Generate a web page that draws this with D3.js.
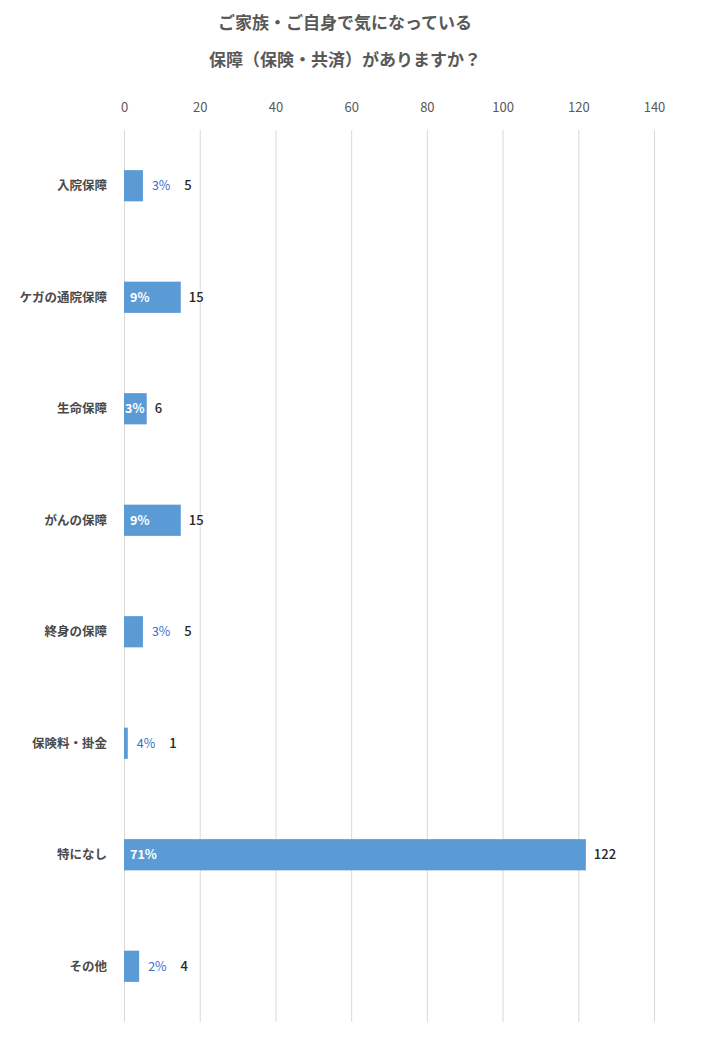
<!DOCTYPE html>
<html>
<head>
<meta charset="utf-8">
<script src="https://cdn.jsdelivr.net/npm/d3@7"></script>
<style>
  body { margin: 0; background: #fff; }
  text { font-family: "Noto Sans CJK JP", "Noto Sans", sans-serif; }
  .grid line { stroke: #d9d9d9; stroke-width: 1; }
  .grid path { display: none; }
  .xAxis path, .xAxis line { display: none; }
  .xAxis text { fill: #595959; font-size: 13px; }
</style>
</head>
<body>
<script>
const categories = ["入院保障", "ケガの通院保障", "生命保障", "がんの保障", "終身の保障", "保険料・掛金", "特になし", "その他"];
const values = [5, 15, 6, 15, 5, 1, 122, 4];
const percents = ["3%", "9%", "3%", "9%", "3%", "4%", "71%", "2%"];
const xTicks = [0, 20, 40, 60, 80, 100, 120, 140];
const titleLines = ["ご家族・ご自身で気になっている", "保障（保険・共済）がありますか？"];

const width = 706, height = 1049;
const margin = {top: 130, right: 52, bottom: 27, left: 124};
const innerW = width - margin.left - margin.right;
const innerH = height - margin.top - margin.bottom;

let svg = d3.select("body").append("svg")
    .attr("width", width)
    .attr("height", height);

svg.selectAll(".title")
    .data(titleLines)
    .enter().append("text")
    .attr("class", "title")
    .attr("x", 345)
    .attr("y", (d, i) => 29 + i * 37)
    .style("text-anchor", "middle")
    .style("font-size", "17px")
    .style("font-weight", "bold")
    .style("fill", "#595959")
    .text(d => d);

let g = svg.append("g")
    .attr("transform", "translate(" + margin.left + "," + margin.top + ")");

let x = d3.scaleLinear()
    .domain([0, 140])
    .range([0, innerW]);

let y = d3.scaleBand()
    .domain(categories)
    .range([0, innerH])
    .paddingInner(0.72)
    .paddingOuter(0.36);

g.append("g")
    .attr("class", "grid")
    .call(d3.axisBottom(x).tickValues(xTicks).tickSize(innerH).tickFormat(""));

g.append("g")
    .attr("class", "xAxis")
    .attr("transform", "translate(0,-18)")
    .call(d3.axisTop(x).tickValues(xTicks).tickSize(0).tickPadding(0));

// category labels
g.selectAll(".cat")
    .data(categories)
    .enter().append("text")
    .attr("class", "cat")
    .attr("x", -17)
    .attr("y", d => y(d) + y.bandwidth() / 2)
    .attr("dy", "0.35em")
    .style("text-anchor", "end")
    .style("font-size", "12.5px")
    .style("font-weight", "bold")
    .style("fill", "#4a4a4a")
    .text(d => d);

let bars = g.selectAll(".bar")
    .data(values)
    .enter().append("g")
    .attr("class", "bar");

bars.append("rect")
    .attr("x", 0)
    .attr("y", (d, i) => y(categories[i]))
    .attr("width", d => x(d))
    .attr("height", y.bandwidth())
    .style("fill", "#5b9bd5");

// percent labels: inside bar when it fits, else after the bar
let pct = bars.append("text")
    .attr("class", "pct")
    .attr("y", (d, i) => y(categories[i]) + y.bandwidth() / 2)
    .attr("dy", "0.35em")
    .style("font-size", "12.5px")
    .style("font-weight", "bold")
    .text((d, i) => percents[i]);

pct.each(function(d) {
    let el = d3.select(this);
    let w = this.getComputedTextLength();
    let inside = x(d) >= w + 2;
    el.attr("x", inside ? (x(d) > 40 ? 6 : 1) : x(d) + 9)
      .style("fill", inside ? "#ffffff" : "#3a70c8")
      .style("font-weight", inside ? "bold" : "normal");
    this.__end = inside ? x(d) + 8 : x(d) + 9 + w + 13;
});

bars.append("text")
    .attr("class", "val")
    .attr("x", function(d, i) { return pct.nodes()[i].__end; })
    .attr("y", (d, i) => y(categories[i]) + y.bandwidth() / 2)
    .attr("dy", "0.35em")
    .style("font-size", "13px")
    .style("font-weight", "500")
    .style("fill", "#262626")
    .text(d => d);
</script>
</body>
</html>
